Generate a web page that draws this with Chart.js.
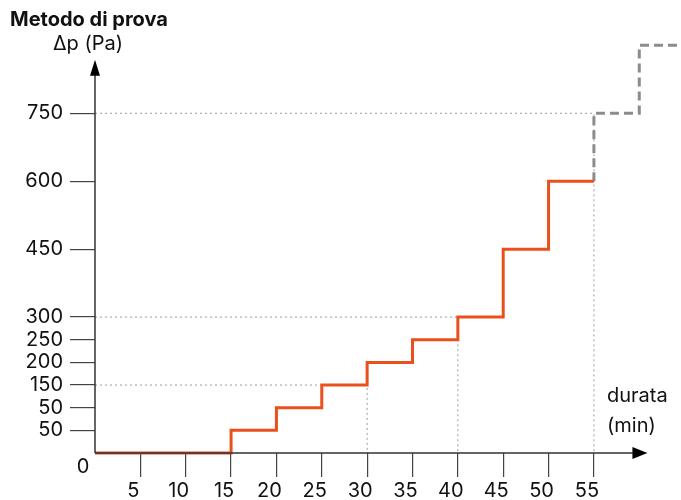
<!DOCTYPE html>
<html>
<head>
<meta charset="utf-8">
<script src="https://cdn.jsdelivr.net/npm/chart.js@4/dist/chart.umd.min.js"></script>
<style>
  html, body { margin: 0; padding: 0; background: #fff; }
  #wrap { width: 681px; height: 500px; }
</style>
</head>
<body>
<div id="wrap"><canvas id="pressureChart"></canvas></div>
<script>
// durata (min) di ogni gradino e pressione raggiunta
var stepTimes = [0, 15, 20, 25, 30, 35, 40, 45, 50, 55];
var stepPressure = [0, 50, 100, 150, 200, 250, 300, 450, 600, 600];
// prosecuzione tratteggiata
var extraTimes = [55, 60, 65];
var extraPressure = [600, 750, 900];
// linee guida punteggiate
var guideTimes = [30, 40, 55];
var guideLevels = [150, 300, 750];
// tacche degli assi
var xTicks = [5, 10, 15, 20, 25, 30, 35, 40, 45, 50, 55];
var yTicks = [50, 100, 150, 200, 250, 300, 450, 600, 750];
var yTickLabels = ['50', '50', '150', '200', '250', '300', '450', '600', '750'];

var FONT = 'Inter, "Liberation Sans", sans-serif';
var AXIS = '#333';

function pts(xs, ys) {
    return xs.map(function (x, i) { return { x: x, y: ys[i] }; });
}

var datasets = [{
    data: pts(stepTimes, stepPressure),
    stepped: true,
    borderColor: '#e9501c',
    borderWidth: 3,
    pointRadius: 0,
    clip: false,
    order: 0
}, {
    data: pts(extraTimes, extraPressure),
    stepped: 'after',
    borderColor: '#8c8c8c',
    borderWidth: 3,
    borderDash: [9, 5],
    pointRadius: 0,
    clip: false,
    order: 1
}];
guideLevels.forEach(function (lvl, i) {
    datasets.push({
        data: [{ x: 0, y: lvl }, { x: guideTimes[i], y: lvl }, { x: guideTimes[i], y: 0 }],
        borderColor: '#9a9a9a',
        borderWidth: 1,
        borderDash: [2, 3],
        pointRadius: 0,
        order: 2
    });
});

// assi con frecce e testi
var axesPlugin = {
    id: 'axesPlugin',
    afterDraw: function (chart) {
        var c = chart.ctx, xs = chart.scales.x, ys = chart.scales.y;
        var x0 = xs.getPixelForValue(0), y0 = ys.getPixelForValue(0);
        var yTip = ys.getPixelForValue(868), xTip = xs.getPixelForValue(60.9);
        c.save();
        c.strokeStyle = AXIS;
        c.fillStyle = '#000';
        c.lineWidth = 1.5;
        c.beginPath();
        c.moveTo(x0, y0); c.lineTo(x0, yTip + 10);
        c.moveTo(x0, y0); c.lineTo(xTip - 10, y0);
        c.stroke();
        c.beginPath();
        c.moveTo(x0, yTip); c.lineTo(x0 - 5, yTip + 16); c.lineTo(x0 + 5, yTip + 16); c.closePath();
        c.fill();
        c.beginPath();
        c.moveTo(xTip, y0); c.lineTo(xTip - 15, y0 - 6); c.lineTo(xTip - 15, y0 + 6); c.closePath();
        c.fill();

        c.fillStyle = '#111';
        c.textBaseline = 'middle';
        c.font = 'bold 20px ' + FONT;
        c.textAlign = 'left';
        c.fillText('Metodo di prova', 10, 20);
        c.font = '20px ' + FONT;
        c.textAlign = 'center';
        c.fillText('Δp (Pa)', 88, 44);
        c.fillText('0', x0 - 12, y0 + 14);
        c.textAlign = 'left';
        c.fillText('durata', 607, 396);
        c.fillText('(min)', 607, 426);
        c.restore();
    }
};

var chart = new Chart(document.getElementById('pressureChart'), {
    type: 'line',
    data: { datasets: datasets },
    options: {
        responsive: true,
        maintainAspectRatio: false,
        animation: false,
        layout: { padding: 0 },
        plugins: { legend: { display: false }, tooltip: { enabled: false } },
        scales: {
            x: {
                type: 'linear',
                min: 0,
                max: 64.6,
                afterBuildTicks: function (s) { s.ticks = xTicks.map(function (v) { return { value: v }; }); },
                afterFit: function (s) { s.height = 47; s.paddingLeft = 0; s.paddingRight = 0; },
                border: { display: false },
                grid: { drawOnChartArea: false, tickLength: 24, tickColor: '#444', lineWidth: 1.2 },
                ticks: { color: '#111', font: { family: FONT, size: 20 }, padding: 2, labelOffset: -7, maxRotation: 0, autoSkip: false }
            },
            y: {
                type: 'linear',
                min: 0,
                max: 1000,
                afterBuildTicks: function (s) { s.ticks = yTicks.map(function (v) { return { value: v }; }); },
                afterFit: function (s) { s.width = 95; s.paddingTop = 0; s.paddingBottom = 0; },
                border: { display: false },
                grid: { drawOnChartArea: false, tickLength: 25, tickColor: '#444', lineWidth: 1.2 },
                ticks: {
                    color: '#111',
                    font: { family: FONT, size: 20 },
                    padding: 7,
                    autoSkip: false,
                    callback: function (v, i) { return yTickLabels[i]; }
                }
            }
        }
    },
    plugins: [axesPlugin]
});
</script>
</body>
</html>
